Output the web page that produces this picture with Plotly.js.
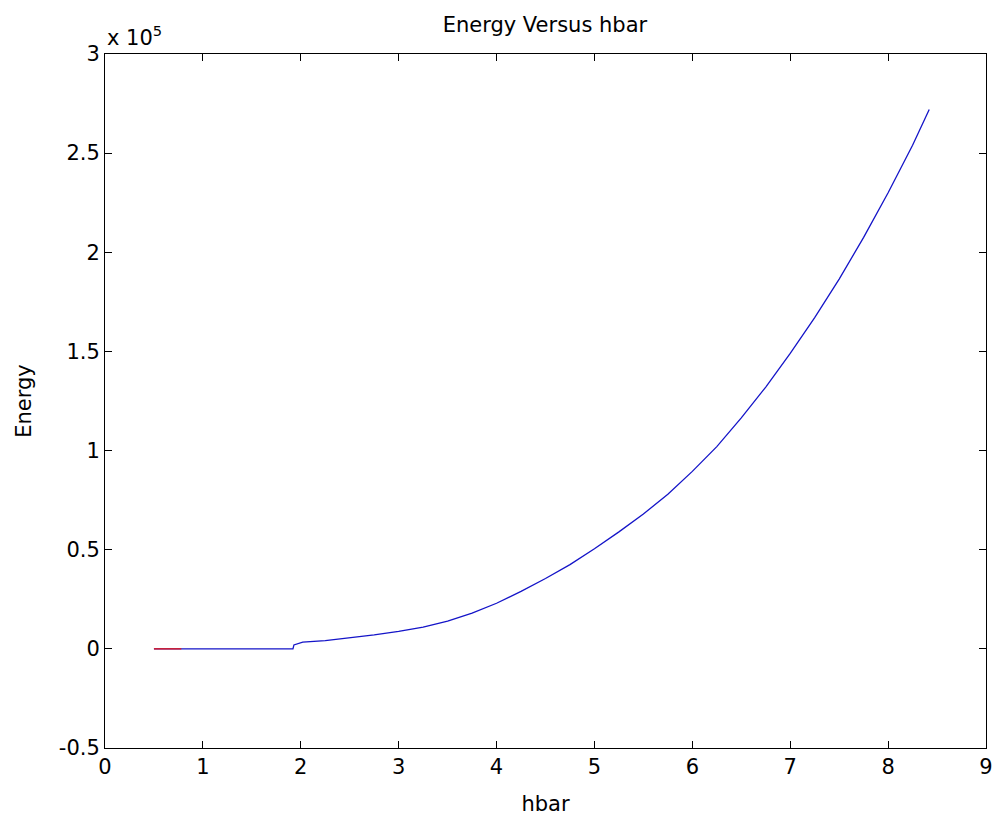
<!DOCTYPE html>
<html>
<head>
<meta charset="utf-8">
<script src="https://cdn.plot.ly/plotly-3.0.1.min.js"></script>
<style>html,body{margin:0;padding:0;background:#fff;}#chart{width:998px;height:824px;}</style>
</head>
<body>
<div id="chart"></div>
<script>
// Red segment (first series)
const hbarRed = [0.5, 0.78];
const energyRed = [0, 0];

// Blue series
const hbarBlue = [0.5, 1.0, 1.5, 1.92, 1.93, 2.02, 2.25, 2.5, 2.75, 3.0, 3.25, 3.5, 3.75, 4.0, 4.25, 4.5, 4.75, 5.0, 5.25, 5.5, 5.75, 6.0, 6.25, 6.5, 6.75, 7.0, 7.25, 7.5, 7.75, 8.0, 8.25, 8.42];
const energyBlue = [0, 0, 0, 0, 2000, 3400, 4200, 5500, 7000, 8800, 11000, 14000, 18000, 23000, 29000, 35500, 42500, 50500, 59000, 68000, 78000, 89500, 102000, 116500, 132000, 149000, 167000, 186500, 207500, 230000, 254000, 272000];

// Axis ticks
const xTickVals = [0, 1, 2, 3, 4, 5, 6, 7, 8, 9];
const yTickVals = [-50000, 0, 50000, 100000, 150000, 200000, 250000, 300000];
const yTickText = ['-0.5', '0', '0.5', '1', '1.5', '2', '2.5', '3'];

const FAM = 'DejaVu Sans, Liberation Sans, Arial, sans-serif';
const font = {family: FAM, size: 21, color: '#000'};

const traces = [
  {x: hbarBlue, y: energyBlue, type: 'scatter', mode: 'lines', line: {color: 'rgb(20,20,200)', width: 1.3}, showlegend: false},
  {x: hbarRed, y: energyRed, type: 'scatter', mode: 'lines', line: {color: 'rgb(230,20,20)', width: 1.3}, showlegend: false}
];

const axisCommon = {
  showline: true, linecolor: '#000', linewidth: 1, mirror: 'ticks',
  ticks: 'inside', ticklen: 7, tickcolor: '#000', tickwidth: 1,
  showgrid: false, zeroline: false, tickfont: font
};

const layout = {
  width: 998, height: 824,
  margin: {l: 105, r: 12, t: 54, b: 76},
  paper_bgcolor: '#fff', plot_bgcolor: '#fff',
  font: font,
  title: {text: 'Energy Versus hbar', font: {family: FAM, size: 21, color: '#000'}, x: 0.546, xanchor: 'center', y: 0.97, yanchor: 'middle'},
  xaxis: Object.assign({}, axisCommon, {
    range: [0, 9], tickvals: xTickVals,
    title: {text: 'hbar', font: {family: FAM, size: 21, color: '#000'}, standoff: 18}
  }),
  yaxis: Object.assign({}, axisCommon, {
    range: [-50000, 300000], tickvals: yTickVals, ticktext: yTickText,
    title: {text: 'Energy', font: {family: FAM, size: 21, color: '#000'}, standoff: 21}
  }),
  annotations: [{
    xref: 'paper', yref: 'paper', x: 0, y: 1, xanchor: 'left', yanchor: 'bottom',
    text: 'x 10<sup>5</sup>', showarrow: false, font: {family: FAM, size: 21, color: '#000'}, yshift: 2
  }]
};

Plotly.newPlot('chart', traces, layout, {displayModeBar: false, staticPlot: true});
</script>
</body>
</html>
